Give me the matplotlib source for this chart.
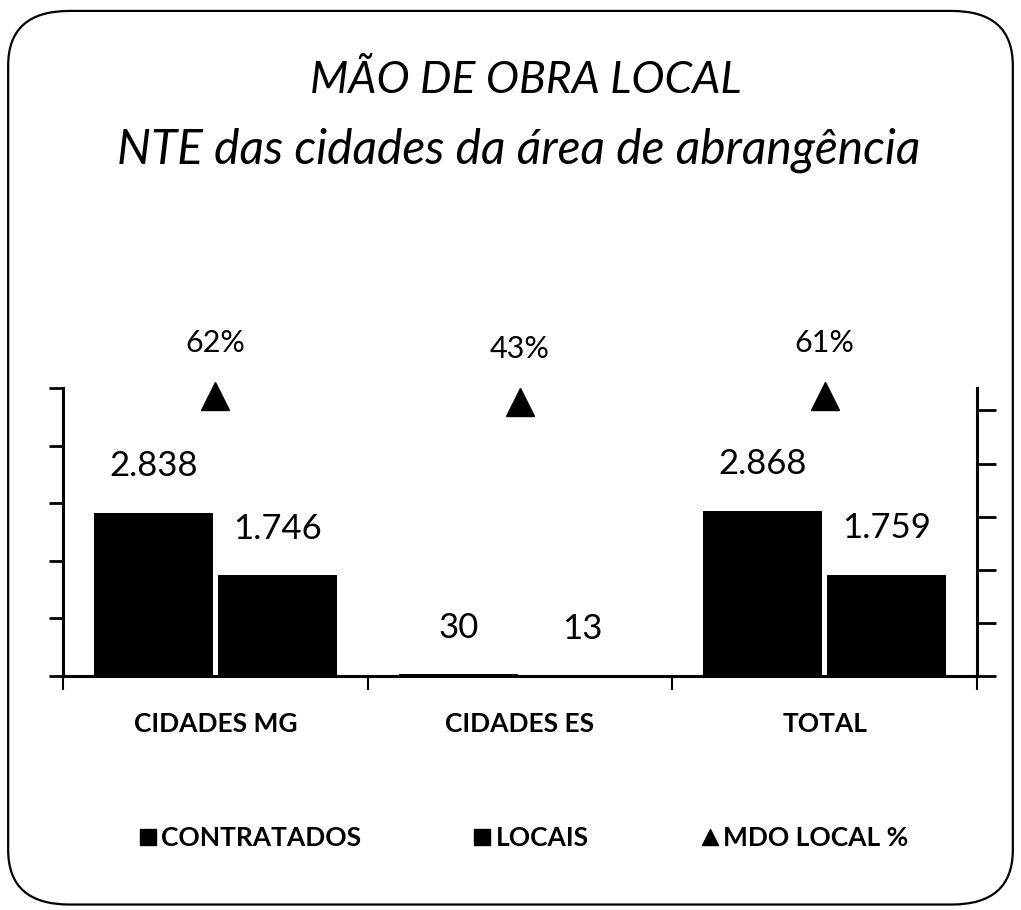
import numpy as np
import matplotlib
matplotlib.use('Agg')
import matplotlib.pyplot as plt
from matplotlib.lines import Line2D
from matplotlib.patches import FancyBboxPatch

plt.rcParams['font.family'] = ['Lato', 'DejaVu Sans']

# dados
categorias = ['CIDADES MG', 'CIDADES ES', 'TOTAL']
contratados = [2838, 30, 2868]
locais = [1746, 13, 1759]
mdo_pct = [0.62, 0.43, 0.61]
rotulos_val = ['2.838', '30', '2.868']
rotulos_loc = ['1.746', '13', '1.759']
rotulos_pct = ['62%', '43%', '61%']

fig = plt.figure(figsize=(10.21, 9.10), dpi=100)

# moldura arredondada
moldura = FancyBboxPatch((0.008, 0.006), 0.984, 0.982,
                         boxstyle='round,pad=0,rounding_size=0.06',
                         transform=fig.transFigure, fill=False,
                         edgecolor='black', linewidth=1.6)
fig.patches.append(moldura)

fig.text(0.515, 0.912, 'MÃO DE OBRA LOCAL', ha='center', va='center',
         fontsize=32, style='italic')
fig.text(0.508, 0.835, 'NTE das cidades da área de abrangência', ha='center',
         va='center', fontsize=34.5, style='italic')

ax = fig.add_axes([0.0617, 0.2571, 0.8953, 0.3165])
x = np.arange(len(categorias))
w = 0.39
ax.bar(x - 0.203, contratados, w, color='black')
ax.bar(x + 0.203, locais, w, color='black')

for xi, v, t in zip(x, contratados, rotulos_val):
    ax.annotate(t, (xi - 0.203, v), xytext=(0, 22), textcoords='offset points',
                ha='center', va='bottom', fontsize=25)
for xi, v, t in zip(x, locais, rotulos_loc):
    ax.annotate(t, (xi + 0.203, v), xytext=(0, 22), textcoords='offset points',
                ha='center', va='bottom', fontsize=25)

ax.set_xlim(-0.5, 2.5)
ax.set_ylim(0, 5000)
ax.set_yticks(np.arange(0, 5001, 1000))
ax.set_yticklabels([])
ax.set_xticks([-0.5, 0.5, 1.5, 2.5])
ax.set_xticklabels([])
ax.set_xticks(x, minor=True)
ax.set_xticklabels(categorias, minor=True, fontsize=19, fontweight='bold')
ax.tick_params(axis='x', which='minor', length=0, pad=26)
ax.tick_params(axis='x', which='major', length=10, width=1.5, direction='out')
ax.tick_params(axis='y', length=10, width=2, direction='out')
for s in ['left', 'bottom']:
    ax.spines[s].set_linewidth(2.2)
ax.spines['top'].set_visible(False)
ax.spines['right'].set_visible(False)

# eixo secundário (MDO LOCAL %)
ax2 = ax.twinx()
lo, hi = -8.24, 0.87
ax2.set_ylim(lo, hi)
ax2.set_yticks(lo + np.arange(6) * 1.68)
ax2.set_yticklabels([])
ax2.tick_params(axis='y', length=14, width=2, direction='out')
ax2.spines['right'].set_linewidth(2.2)
for s in ['left', 'bottom', 'top']:
    ax2.spines[s].set_visible(False)
ax2.plot(x, mdo_pct, linestyle='none', marker='^', markersize=20,
         color='black', clip_on=False)
for xi, v, t in zip(x, mdo_pct, rotulos_pct):
    ax2.annotate(t, (xi, v), xytext=(0, 38), textcoords='offset points',
                 ha='center', va='center', fontsize=22)

handles = [Line2D([], [], linestyle='none', marker='s', color='black', markersize=11),
           Line2D([], [], linestyle='none', marker='s', color='black', markersize=11),
           Line2D([], [], linestyle='none', marker='^', color='black', markersize=11)]
fig.legend(handles, ['CONTRATADOS', 'LOCAIS', 'MDO LOCAL %'], loc='center',
           bbox_to_anchor=(0.512, 0.079), ncol=3, frameon=False, fontsize=19,
           prop={'weight': 'bold', 'size': 19},
           handletextpad=0.1, columnspacing=4.2, handlelength=0.8)

fig.savefig('out.png', dpi=100)
